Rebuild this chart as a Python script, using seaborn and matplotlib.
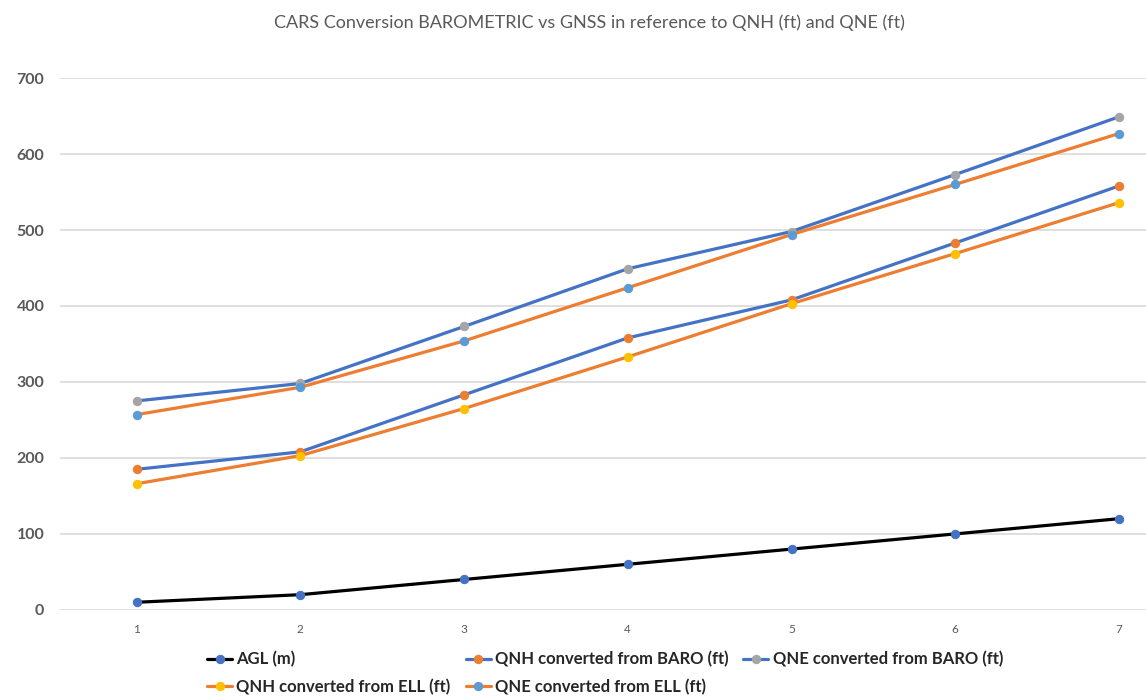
import matplotlib
matplotlib.use("Agg")
import matplotlib.pyplot as plt
import seaborn as sns
import pandas as pd

x_vals = [1, 2, 3, 4, 5, 6, 7]
agl = [10, 20, 40, 60, 80, 100, 120]
qnh_baro = [185, 208, 283, 358, 408, 483, 558]
qne_baro = [275, 298, 373, 449, 498, 573, 649]
qnh_ell = [166, 203, 265, 333, 403, 469, 536]
qne_ell = [257, 293, 354, 424, 494, 560, 627]
labels = ["AGL (m)", "QNH converted from BARO (ft)", "QNE converted from BARO (ft)",
          "QNH converted from ELL (ft)", "QNE converted from ELL (ft)"]
title = "CARS Conversion BAROMETRIC vs GNSS in reference to QNH (ft) and QNE (ft)"

sns.set_theme(style="white")
plt.rcParams['font.family'] = ['Lato', 'DejaVu Sans']

fig = plt.figure(figsize=(11.46, 6.97), dpi=100)
ax = fig.add_axes([0.052, 0.125, 0.948, 0.763])

series = [agl, qnh_baro, qne_baro, qnh_ell, qne_ell]
line_colors = ["#000000", "#4472C4", "#4472C4", "#ED7D31", "#ED7D31"]
marker_colors = ["#4472C4", "#ED7D31", "#A5A5A5", "#FFC000", "#5B9BD5"]

for vals, lab, lc, mc in zip(series, labels, line_colors, marker_colors):
    df = pd.DataFrame({"x": x_vals, "y": vals})
    sns.lineplot(data=df, x="x", y="y", ax=ax, color=lc, linewidth=2.3,
                 marker="o", markersize=6, markerfacecolor=mc, markeredgecolor=mc,
                 label=lab, clip_on=False, zorder=3)
h, l = ax.get_legend_handles_labels()
order = [0, 3, 1, 4, 2]
leg = ax.legend([h[i] for i in order], [l[i] for i in order], ncol=3,
                loc="upper left", bbox_to_anchor=(0.122, -0.05), frameon=False,
                fontsize=12, handlelength=1.5, handletextpad=0.25, columnspacing=0.9,
                labelspacing=0.65)
for t in leg.get_texts():
    t.set_fontweight("bold")
    t.set_color("#262626")

ax.set_xlim(0.53, 7.165)
ax.set_ylim(0, 700)
ax.set_yticks(range(0, 701, 100))
ax.set_xticks(x_vals)
ax.set_xticklabels([str(v) for v in x_vals])
ax.set_xlabel("")
ax.set_ylabel("")
ax.grid(axis="y", color="#D9D9D9", linewidth=1.2)
ax.set_axisbelow(True)
for s in ax.spines.values():
    s.set_visible(False)
ax.tick_params(axis="y", length=0, pad=11, labelsize=11.5, labelcolor="#595959")
ax.tick_params(axis="x", length=0, pad=10, labelsize=8.5, labelcolor="#595959")
for t in ax.get_yticklabels():
    t.set_fontweight("bold")

fig.text(0.514, 0.968, title, ha="center", va="center", fontsize=13, color="#595959")

fig.savefig("out.png", dpi=100, facecolor="white")
